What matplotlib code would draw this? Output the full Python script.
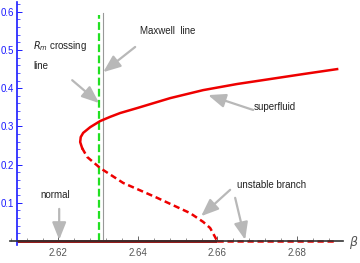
import numpy as np
import matplotlib
matplotlib.use("Agg")
import matplotlib.pyplot as plt
from matplotlib.ticker import MultipleLocator

plt.rcParams['font.family'] = ['Liberation Sans', 'DejaVu Sans']

# superfluid (stable) branch
beta_stable = [2.62596, 2.62546, 2.62560, 2.62621, 2.62798, 2.63049, 2.63300,
               2.63552, 2.63980, 2.64810, 2.65641, 2.66496, 2.67327,
               2.68157, 2.69012]
r_stable = [0.243, 0.259, 0.272, 0.283, 0.298, 0.314, 0.325,
            0.335, 0.348, 0.374, 0.395, 0.411, 0.424, 0.437, 0.450]

# unstable branch
beta_unstable = [2.62596, 2.62722, 2.63049, 2.63628, 2.64483, 2.65313,
                 2.65641, 2.65817, 2.65943, 2.65993]
r_unstable = [0.243, 0.220, 0.191, 0.152, 0.113, 0.073,
              0.050, 0.034, 0.010, 0.0]

# normal phase (R = 0)
beta_normal = [2.6096, 2.66]
beta_normal_unstable = [2.66, 2.6901]

beta_maxwell = 2.6313
beta_rm = 2.6303

fig = plt.figure(figsize=(3.6, 2.63), dpi=100)
ax = fig.add_axes([10/360, 18/263, 333/360, 243/263])
ax.set_xlim(2.6078, 2.6916)
ax.set_ylim(-0.0105, 0.6257)

ax.spines['top'].set_visible(False)
ax.spines['right'].set_visible(False)
ax.spines['left'].set_position(('data', 2.6096))
ax.spines['bottom'].set_position(('data', 0))
ax.spines['left'].set_color('#1a1aff')
ax.spines['left'].set_linewidth(1.2)
ax.spines['bottom'].set_color('#333333')
ax.spines['bottom'].set_linewidth(1.2)

ax.xaxis.set_minor_locator(MultipleLocator(0.004))
ax.yaxis.set_minor_locator(MultipleLocator(0.02))
ax.set_xticks([2.62, 2.64, 2.66, 2.68])
ax.set_xticklabels(['2.62', '2.64', '2.66', '2.68'])
ax.set_yticks([0.1, 0.2, 0.3, 0.4, 0.5, 0.6])
ax.set_yticklabels(['0.1', '0.2', '0.3', '0.4', '0.5', '0.6'])

ax.tick_params(axis='x', which='both', direction='in', colors='#666666',
               labelsize=7, pad=5)
ax.tick_params(axis='x', which='major', length=3.5, width=0.7)
ax.tick_params(axis='x', which='minor', length=2, width=0.5)
ax.tick_params(axis='y', which='both', direction='in', colors='#1a1aff',
               labelsize=7, pad=2.5)
ax.tick_params(axis='y', which='major', length=3.5, width=0.7)
ax.tick_params(axis='y', which='minor', length=2, width=0.5)
for t in ax.get_xticklabels():
    t.set_color('#555555')

# vertical lines
ax.plot([beta_maxwell, beta_maxwell], [0, 0.597], color='#999999', lw=0.8)
ax.plot([beta_rm, beta_rm], [0, 0.592], color='#22e022', lw=1.6,
        dashes=(3.5, 1.5))

# branches
ax.plot(beta_normal, [0, 0], color='#8b0000', lw=2.0, solid_capstyle='butt')
ax.plot(beta_normal_unstable, [0, 0], color='#ee0000', lw=1.8,
        dashes=(2.5, 1.5))
ax.plot(beta_stable, r_stable, color='#ee0000', lw=1.8, solid_joinstyle='round')
ax.plot(beta_unstable, r_unstable, color='#ee0000', lw=1.8, dashes=(2.5, 1.5))

# labels and arrows
txt = dict(fontsize=7, color='#222222', va='center', ha='left')
ax.text(2.61364, 0.510, '$R_m$ crossing', **txt)
ax.text(2.61364, 0.458, 'line', **txt)
ax.text(2.64055, 0.550, 'Maxwell  line', **txt)
ax.text(2.66924, 0.351, 'superfluid', **txt)
ax.text(2.66496, 0.147, 'unstable branch', **txt)
ax.text(2.61540, 0.120, 'normal', **txt)

arrow = dict(arrowstyle='-|>,head_length=0.75,head_width=0.3',
             color='#b8b8b8', lw=1.6, mutation_scale=14, shrinkA=0, shrinkB=0)
arrows = [((2.63930, 0.508), (2.63125, 0.442)),
          ((2.62345, 0.421), (2.63024, 0.361)),
          ((2.66899, 0.343), (2.65766, 0.382)),
          ((2.66320, 0.134), (2.65590, 0.065)),
          ((2.66446, 0.113), (2.66697, 0.003)),
          ((2.62018, 0.084), (2.62018, 0.003))]
for tail, tip in arrows:
    ax.annotate('', xy=tip, xytext=tail, arrowprops=arrow)

ax.text(2.6944, -0.005, r'$\beta$', fontsize=9, color='#555555',
        ha='center', va='center', clip_on=False)

fig.savefig('out.png', dpi=100)
